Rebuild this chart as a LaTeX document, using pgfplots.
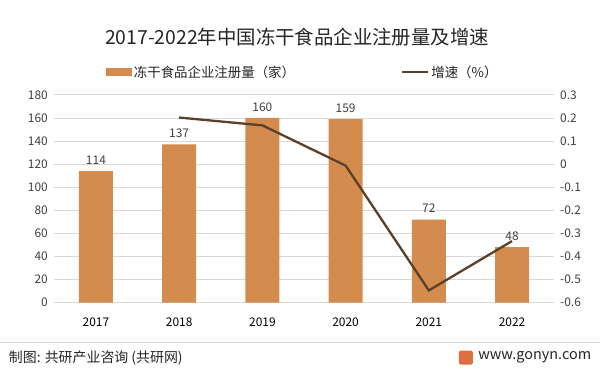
\documentclass[border=0pt]{standalone}
\usepackage{fontspec}
\setmainfont{Noto Sans CJK SC}
\usepackage{pgfplots}
\pgfplotsset{compat=1.18}
\definecolor{barc}{HTML}{D48B4E}
\definecolor{linec}{HTML}{5C4029}
\definecolor{gridc}{HTML}{D9D9D9}
\definecolor{txt}{HTML}{404040}
\definecolor{ttl}{HTML}{262626}
\begin{document}
\begin{tikzpicture}[x=1bp,y=1bp]
\fill[white] (0,0) rectangle (600,373);
\node[anchor=center, text=ttl, font=\fontsize{19.5}{20}\selectfont] at (297,336) {2017-2022年中国冻干食品企业注册量及增速};
\begin{axis}[
  at={(54bp,70bp)}, anchor=south west,
  scale only axis, width=500bp, height=208bp,
  xmin=-0.5, xmax=5.5, ymin=0, ymax=180,
  ytick={0,20,...,180},
  xtick={0,1,2,3,4,5},
  xticklabels={2017,2018,2019,2020,2021,2022},
  axis line style={draw=none}, tick style={draw=none},
  ymajorgrids, grid style={gridc, line width=0.8pt},
  ybar, bar width=34bp,
  /pgf/number format/assume math mode=true,
  ticklabel style={font=\fontsize{12}{12}\selectfont, text=txt},
  xticklabel style={text=black, yshift=-7bp},
  yticklabel style={xshift=-3bp},
  nodes near coords,
  nodes near coords style={font=\fontsize{12}{12}\selectfont, text=txt, yshift=3bp},
]
\addplot[fill=barc, draw=none] coordinates {(0,114) (1,137) (2,160) (3,159) (4,72) (5,48)};
\end{axis}
\begin{axis}[
  at={(54bp,70bp)}, anchor=south west,
  scale only axis, width=500bp, height=208bp,
  xmin=-0.5, xmax=5.5, ymin=-0.6, ymax=0.3,
  axis y line*=right, hide x axis,
  axis line style={draw=none}, tick style={draw=none},
  ytick={-0.6,-0.5,-0.4,-0.3,-0.2,-0.1,0,0.1,0.2,0.3},
  yticklabels={-0.6,-0.5,-0.4,-0.3,-0.2,-0.1,0,0.1,0.2,0.3},
  yticklabel style={font=\fontsize{12}{12}\selectfont, text=txt, xshift=3bp},
  legend style={at={(0.497,1.11)}, anchor=center, draw=none, fill=none,
    font=\fontsize{13.5}{14}\selectfont, text=ttl,
    legend columns=2,
    /tikz/every even column/.append style={column sep=104bp}},
  legend cell align=left,
]
\addlegendimage{legend image code/.code={\fill[barc] (0bp,-3.5bp) rectangle (26bp,3.5bp);}}
\addlegendentry{冻干食品企业注册量（家）}
\addplot[linec, line width=2.3bp, mark=none,
  legend image code/.code={\draw[linec, line width=2.5bp] (0bp,0bp) -- (26bp,0bp);}]
  coordinates {(1,0.2018) (2,0.1679) (3,-0.0063) (4,-0.5472) (5,-0.3333)};
\addlegendentry{增速（\%）}
\end{axis}
\draw[gridc, line width=0.8pt] (0,30) -- (600,30);
\node[anchor=west, text=ttl, font=\fontsize{14}{14}\selectfont] at (5,15) {制图: 共研产业咨询 (共研网)};
\fill[barc!80!red, rounded corners=1.5bp] (459,8) rectangle (473,22);
\node[anchor=east, text=ttl, font=\fontsize{14.5}{15}\selectfont] at (595,15) {www.gonyn.com};
\end{tikzpicture}
\end{document}
